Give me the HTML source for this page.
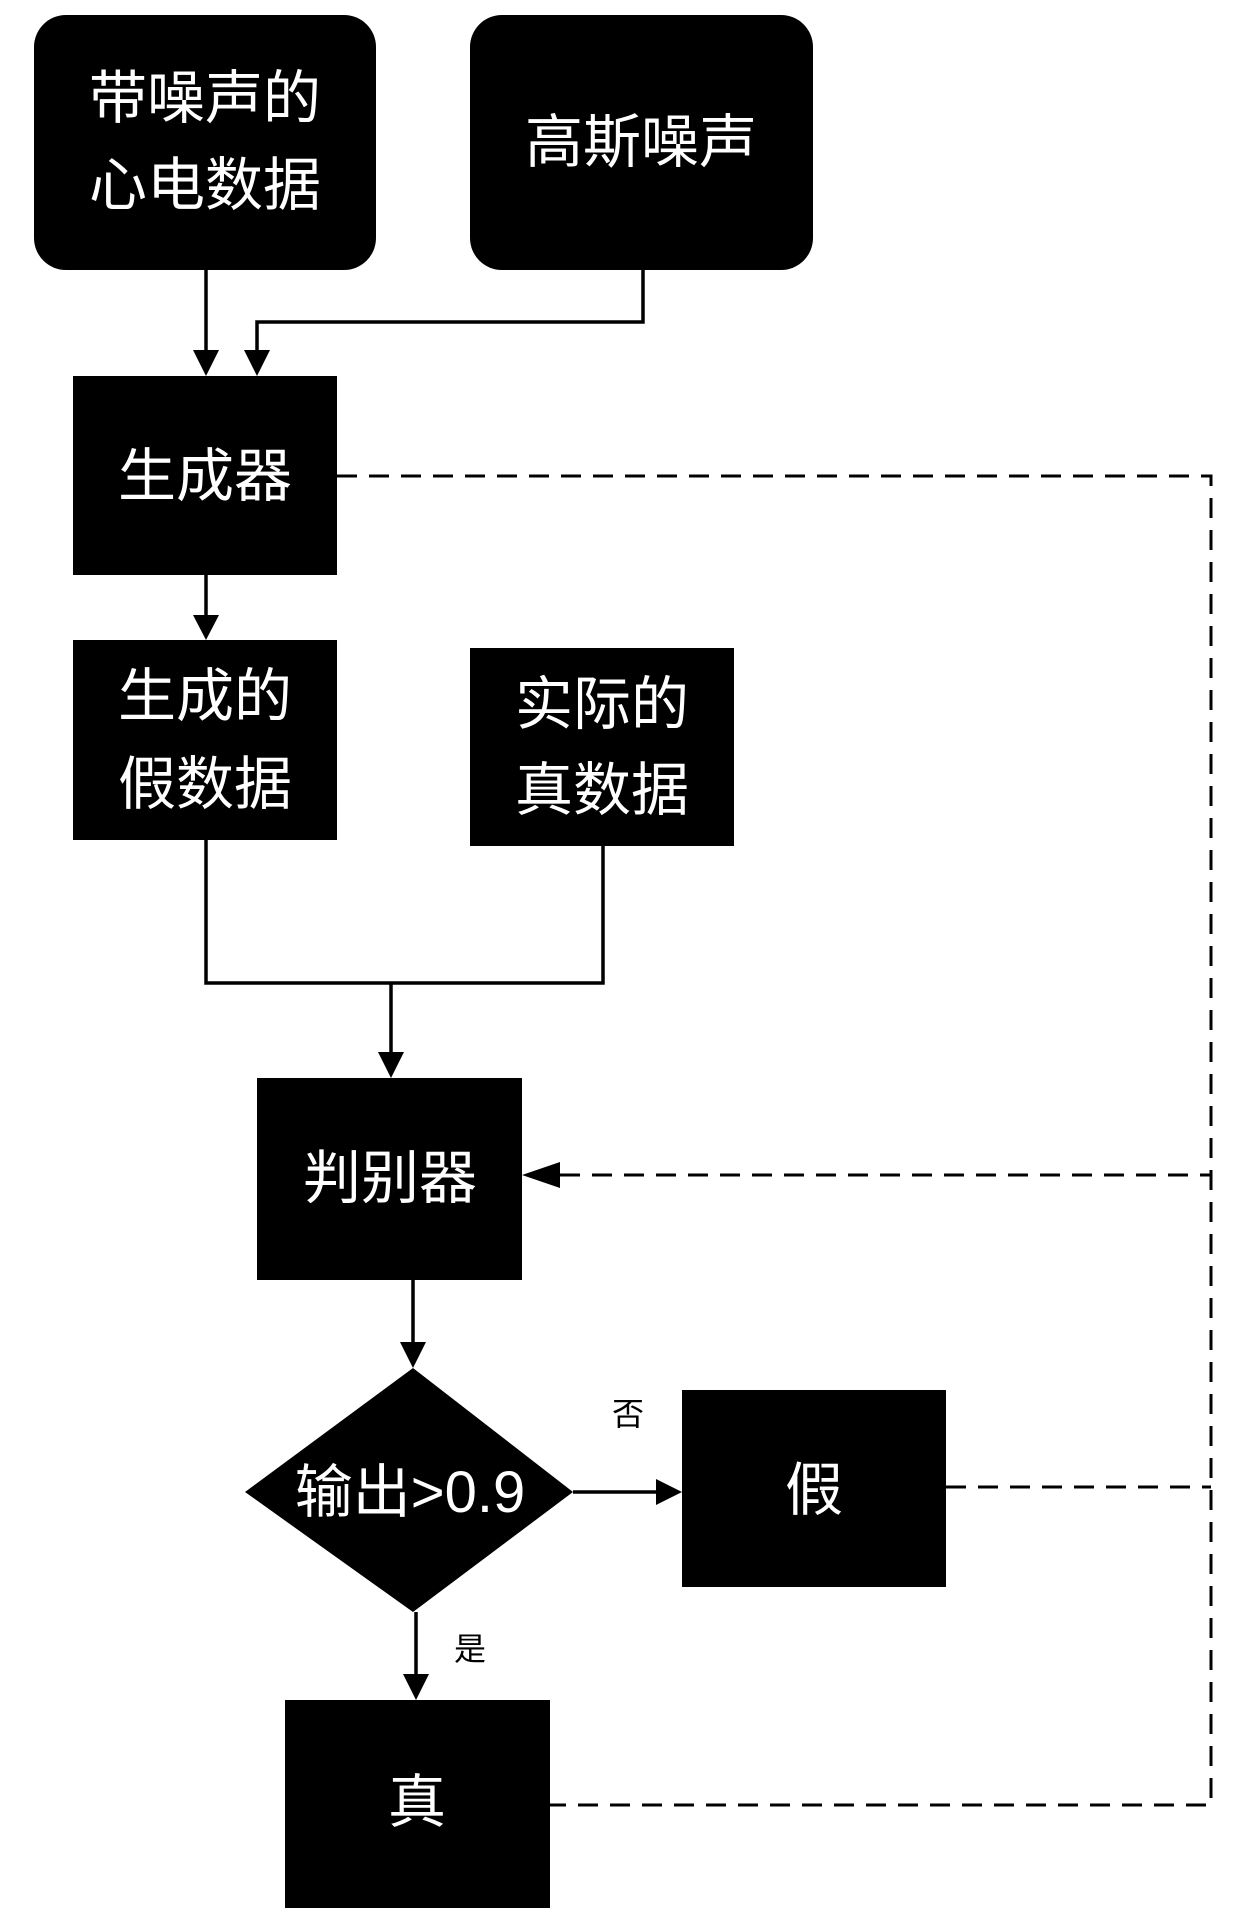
<!DOCTYPE html>
<html><head><meta charset="utf-8"><style>
html,body{margin:0;padding:0;background:#fff;}
svg text{font-family:"Liberation Sans","Noto Sans CJK SC",sans-serif;}
</style></head><body>
<svg width="1240" height="1908" viewBox="0 0 1240 1908" xmlns="http://www.w3.org/2000/svg">
<defs>
<marker id="a" markerWidth="10" markerHeight="10" refX="9" refY="5" orient="auto" markerUnits="userSpaceOnUse" viewBox="0 0 10 10">
</marker>
</defs>
<g fill="#000">
<rect x="34" y="15" width="342" height="255" rx="32"/>
<rect x="470" y="15" width="343" height="255" rx="32"/>
<rect x="73" y="376" width="264" height="199"/>
<rect x="73" y="640" width="264" height="200"/>
<rect x="470" y="648" width="264" height="198"/>
<rect x="257" y="1078" width="265" height="202"/>
<polygon points="413,1368 573,1492 413,1612 245,1492"/>
<rect x="682" y="1390" width="264" height="197"/>
<rect x="285" y="1700" width="265" height="208"/>
</g>
<g stroke="#000" stroke-width="3.5" fill="none">
<line x1="206" y1="270" x2="206" y2="350"/>
<polyline points="643,270 643,322 257,322 257,350"/>
<line x1="206" y1="575" x2="206" y2="615"/>
<polyline points="206,840 206,983 603,983 603,846"/>
<line x1="391" y1="983" x2="391" y2="1052"/>
<line x1="413" y1="1280" x2="413" y2="1342"/>
<line x1="573" y1="1492" x2="656" y2="1492"/>
<line x1="416" y1="1612" x2="416" y2="1674"/>
</g>
<g fill="#000">
<polygon points="193,350 219,350 206,376"/>
<polygon points="244,350 270,350 257,376"/>
<polygon points="193,615 219,615 206,640"/>
<polygon points="378,1052 404,1052 391,1078"/>
<polygon points="400,1342 426,1342 413,1368"/>
<polygon points="656,1479 656,1505 682,1492"/>
<polygon points="403,1674 429,1674 416,1700"/>
<polygon points="522,1175 560,1162 560,1188"/>
</g>
<g stroke="#000" stroke-width="3" fill="none" stroke-dasharray="20,12">
<polyline points="337,476 1211,476 1211,1805 550,1805"/>
<polyline points="560,1175 1211,1175"/>
<polyline points="946,1487 1211,1487"/>
</g>
<g fill="#fff" font-size="58" text-anchor="middle">
<text x="205" y="118">带噪声的</text>
<text x="205" y="205">心电数据</text>
<text x="641" y="162">高斯噪声</text>
<text x="205" y="496">生成器</text>
<text x="205" y="716">生成的</text>
<text x="205" y="804">假数据</text>
<text x="602" y="724">实际的</text>
<text x="602" y="810">真数据</text>
<text x="390" y="1198">判别器</text>
<text x="410" y="1512">输出&gt;0.9</text>
<text x="814" y="1510">假</text>
<text x="417" y="1822">真</text>
</g>
<g fill="#000" font-size="32" text-anchor="middle">
<text x="628" y="1425">否</text>
<text x="470" y="1660">是</text>
</g>
</svg>
</body></html>
